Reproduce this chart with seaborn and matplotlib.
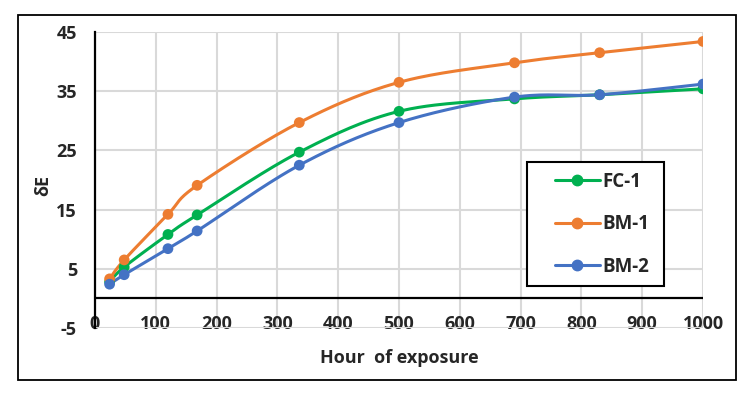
import numpy as np
import seaborn as sns
import matplotlib.pyplot as plt
from matplotlib.lines import Line2D
from matplotlib.patches import Rectangle

# data
hours = [24, 48, 120, 168, 336, 500, 690, 830, 1000]
fc1 = [2.8, 5.3, 10.8, 14.1, 24.7, 31.6, 33.7, 34.4, 35.4]
bm1 = [3.3, 6.5, 14.2, 19.1, 29.7, 36.5, 39.8, 41.5, 43.4]
bm2 = [2.4, 4.0, 8.4, 11.4, 22.5, 29.7, 34.0, 34.4, 36.2]
series_names = ['FC-1', 'BM-1', 'BM-2']
colors = ['#00B050', '#ED7D31', '#4472C4']

x_ticks = list(range(0, 1001, 100))
y_ticks = list(range(-5, 46, 10))


def smooth(x, y, sx=1000.0, sy=50.0 * 296 / 608, n=30):
    # Excel-like smoothed line (bezier through the points), done in scaled space
    p = np.column_stack([np.array(x) / sx, np.array(y) / sy])
    out = [p[0]]
    for i in range(len(p) - 1):
        p0 = p[i - 1] if i > 0 else p[i]
        p1, p2 = p[i], p[i + 1]
        p3 = p[i + 2] if i + 2 < len(p) else p[i + 1]
        c1 = p1 + (p2 - p0) / 6
        c2 = p2 - (p3 - p1) / 6
        t = np.linspace(0, 1, n)[1:, None]
        seg = ((1 - t) ** 3) * p1 + 3 * ((1 - t) ** 2) * t * c1 + 3 * (1 - t) * t ** 2 * c2 + t ** 3 * p2
        out.extend(seg)
    out = np.array(out)
    return out[:, 0] * sx, out[:, 1] * sy


sns.set_style('white')
plt.rcParams['font.family'] = ['Open Sans', 'DejaVu Sans']
plt.rcParams['font.weight'] = 'bold'
plt.rcParams['axes.unicode_minus'] = False

fs = 13
fig = plt.figure(figsize=(7.49, 3.95), dpi=100)
ax = fig.add_axes([95 / 749, 1 - 328 / 395, 608 / 749, 296 / 395])

for name, vals, col in zip(series_names, [fc1, bm1, bm2], colors):
    xs, ys = smooth(hours, vals)
    sns.lineplot(x=xs, y=ys, ax=ax, color=col, linewidth=2.2, sort=False, zorder=3)
    sns.scatterplot(x=hours, y=vals, ax=ax, color=col, s=60, edgecolor='none', zorder=4)

ax.set_xlim(0, 1000)
ax.set_ylim(-5, 45)
ax.set_xticks(x_ticks)
ax.set_yticks(y_ticks)
ax.grid(True, color='#d9d9d9', linewidth=1.5)
ax.set_axisbelow(True)
ax.axhline(0, color='black', linewidth=1.6, zorder=2)
for s in ['top', 'right', 'bottom']:
    ax.spines[s].set_visible(False)
ax.spines['left'].set_color('black')
ax.spines['left'].set_linewidth(1.6)
ax.tick_params(axis='x', length=0, pad=-9.5, labelsize=fs)
ax.tick_params(axis='y', length=0, pad=13, labelsize=fs)
for lab in ax.get_xticklabels() + ax.get_yticklabels():
    lab.set_fontweight('bold')

ax.set_xlabel('Hour  of exposure', fontsize=fs, fontweight='bold')
ax.xaxis.set_label_coords(0.5, -0.07)
ax.set_ylabel('δE', fontsize=fs, fontweight='bold')
ax.yaxis.set_label_coords(-0.07, 0.48)

handles = [Line2D([0], [0], color=c, linewidth=2.2, marker='o', markersize=7.5)
           for c in colors]
leg = ax.legend(handles, series_names, loc='upper left',
                bbox_to_anchor=((549 - 95) / 608, (328 - 166) / 296),
                frameon=False, labelspacing=1.2,
                handlelength=2.4, handletextpad=0.15, borderpad=0.3,
                borderaxespad=0, prop={'weight': 'bold', 'size': 13.5})

# legend frame, placed like the reference box
ax.add_patch(Rectangle(((527 - 95) / 608, (328 - 286) / 296), 137 / 608, 124 / 296,
                       transform=ax.transAxes, fill=True, facecolor='white',
                       edgecolor='black', linewidth=1.5, zorder=5))
leg.set_zorder(6)

fig.patches.append(Rectangle((18 / 749, 1 - 380 / 395), 718 / 749, 365 / 395,
                             transform=fig.transFigure, fill=False,
                             edgecolor='black', linewidth=1.3))

plt.savefig('out.png', dpi=100)
